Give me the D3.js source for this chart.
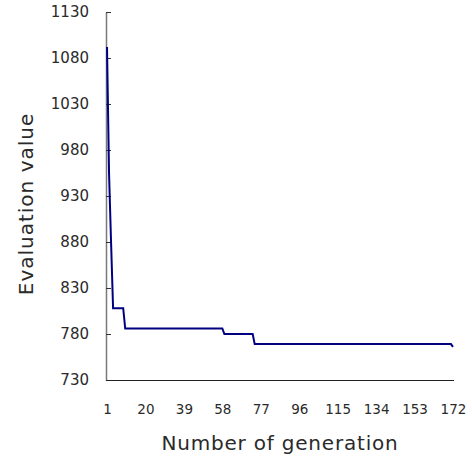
<html>
<script src="https://d3js.org/d3.v7.min.js"></script>
<style>
    body { margin: 0; background: #fff; }
    svg { display: block; font-family: "DejaVu Sans", sans-serif; }
</style>
<svg width=472 height=456></svg>
<script>
    // step points of the best evaluation value (value held between them)
    let generations = [1, 2, 3, 4, 9, 10, 58, 59, 73, 74, 171, 172];
    let evalValues = [1092, 955, 880, 808, 808, 786, 786, 780, 780, 769, 769, 766];
    let xTickLabels = [1, 20, 39, 58, 77, 96, 115, 134, 153, 172];
    let yTickLabels = [730, 780, 830, 880, 930, 980, 1030, 1080, 1130];

    let svg = d3.select('svg'),
        plotLeft = 106, plotRight = 454, plotTop = 12, plotBottom = 380;

    let x = d3.scaleLinear()
        .domain([0.5, 172.5])
        .range([plotLeft, plotRight]);

    let y = d3.scaleLinear()
        .domain([730, 1130])
        .range([plotBottom, plotTop]);

    // y axis: gray line, ticks pointing inward
    let yAxis = svg.append('g')
        .attr('transform', 'translate(' + plotLeft + ',0)')
        .call(d3.axisLeft(y).tickValues(yTickLabels).tickFormat(d3.format('d'))
            .tickSize(-5).tickSizeOuter(0).tickPadding(17));
    yAxis.select('.domain').attr('stroke', '#7a7a7a').attr('stroke-width', 1.5);
    yAxis.selectAll('.tick line').attr('stroke', '#333');
    yAxis.selectAll('.tick text')
        .attr('font-size', 15)
        .attr('fill', '#2a2a2a')
        .attr('font-family', '"DejaVu Sans", sans-serif');

    // x axis: dark line, labels only
    let xAxis = svg.append('g')
        .attr('transform', 'translate(0,' + plotBottom + ')')
        .call(d3.axisBottom(x).tickValues(xTickLabels).tickFormat(d3.format('d'))
            .tickSize(0).tickPadding(24));
    xAxis.select('.domain').attr('stroke', '#222').attr('d', 'M' + plotLeft + ',0.5H' + plotRight);
    xAxis.selectAll('.tick text')
        .attr('font-size', 13.5)
        .attr('fill', '#2a2a2a')
        .attr('font-family', '"DejaVu Sans", sans-serif');

    let line = d3.line()
        .x((d, i) => x(generations[i]))
        .y(d => y(d));

    svg.append('path')
        .datum(evalValues)
        .attr('fill', 'none')
        .attr('stroke', '#000080')
        .attr('stroke-width', 2)
        .attr('d', line);

    svg.append('text')
        .attr('x', 280)
        .attr('y', 450)
        .attr('text-anchor', 'middle')
        .attr('font-size', 20)
        .attr('letter-spacing', 0.8)
        .attr('fill', '#2a2a2a')
        .text('Number of generation');

    svg.append('text')
        .attr('transform', 'translate(33,204) rotate(-90)')
        .attr('text-anchor', 'middle')
        .attr('font-size', 20)
        .attr('letter-spacing', 1)
        .attr('fill', '#2a2a2a')
        .text('Evaluation value');
</script>
</html>
